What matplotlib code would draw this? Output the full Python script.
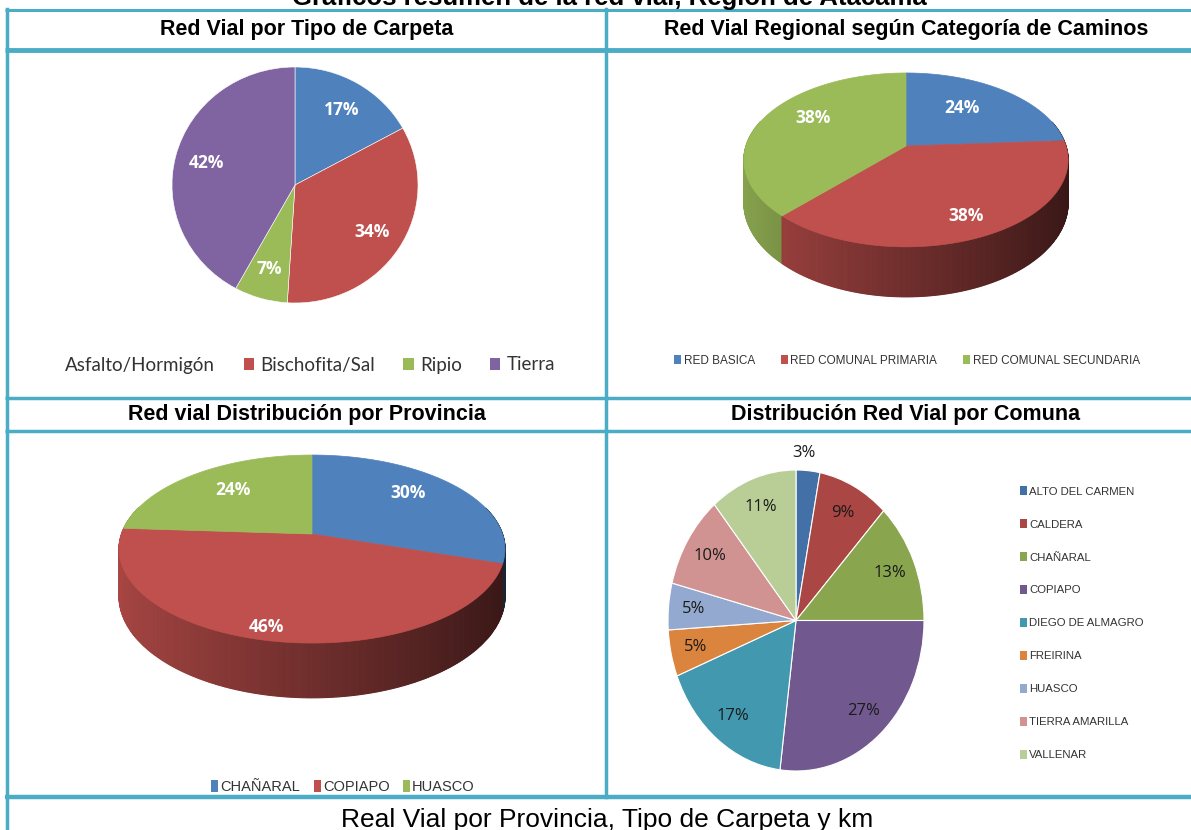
import numpy as np
import matplotlib
matplotlib.use('Agg')
import matplotlib.pyplot as plt
from matplotlib.patches import Polygon, Patch

W, H = 1191, 830

# datos
carpeta_labels = ['Asfalto/Hormigón', 'Bischofita/Sal', 'Ripio', 'Tierra']
carpeta_pct = [17, 34, 7, 42]

categoria_labels = ['RED BASICA', 'RED COMUNAL PRIMARIA', 'RED COMUNAL SECUNDARIA']
categoria_pct = [24, 38, 38]

provincia_labels = ['CHAÑARAL', 'COPIAPO', 'HUASCO']
provincia_pct = [30, 46, 24]

comuna_labels = ['ALTO DEL CARMEN', 'CALDERA', 'CHAÑARAL', 'COPIAPO', 'DIEGO DE ALMAGRO',
                 'FREIRINA', 'HUASCO', 'TIERRA AMARILLA', 'VALLENAR']
comuna_pct = [3, 9, 13, 27, 17, 5, 5, 10, 11]

COL4 = ['#4F81BD', '#C0504D', '#9BBB59', '#8064A2']
COL_COMUNA = ['#4470A8', '#AA4643', '#89A54E', '#71588F', '#4198AF',
              '#DB843D', '#93A9CF', '#D19392', '#B9CD96']
TEAL = '#4BACC6'
SANS = 'Liberation Sans'
PCTFONT = ['Open Sans', 'DejaVu Sans']

fig = plt.figure(figsize=(W / 100, H / 100), dpi=100)
fondo = fig.add_axes([0, 0, 1, 1])
fondo.set_xlim(0, W)
fondo.set_ylim(H, 0)
fondo.axis('off')


def caja(x0, y0, x1, y1):
    # px (origen arriba-izquierda) -> fraccion de figura
    return [x0 / W, 1 - y1 / H, (x1 - x0) / W, (y1 - y0) / H]


# lineas de la tabla
for y, lw in [(10.5, 2.2), (50, 3.5), (397.5, 2.5), (430.5, 2.5), (797, 3.2)]:
    fondo.plot([5, W], [y, y], color=TEAL, lw=lw, solid_capstyle='butt')
fondo.plot([7, 7], [9, H], color=TEAL, lw=2.5)
fondo.plot([606, 606], [9, 797], color=TEAL, lw=2.5)

# textos
fondo.text(609, 5, 'Gráficos resumen de la red vial, Región de Atacama', ha='center',
           va='baseline', fontsize=18.5, fontweight='bold', family=SANS)
for x, y, t in [(307, 29, 'Red Vial por Tipo de Carpeta'),
                (906, 29, 'Red Vial Regional según Categoría de Caminos'),
                (307, 414, 'Red vial Distribución por Provincia'),
                (906, 414, 'Distribución Red Vial por Comuna')]:
    fondo.text(x, y, t, ha='center', va='center', fontsize=15.5, fontweight='bold', family=SANS)
fondo.text(607, 827, 'Real Vial por Provincia, Tipo de Carpeta y km', ha='center',
           va='baseline', fontsize=19, family=SANS)


def proyectar(X, Z, cx, cy, A, B, k):
    # disco con perspectiva: Z>0 es el fondo
    d = 1 + k * Z
    return cx + A * X / d, cy - B * Z / d


def pie3d(ax, vals, colors, cx, cy, A, B, k, depth, label_pos):
    total = float(sum(vals))
    start = 90.0
    tapas, lados = [], []
    for v, c in zip(vals, colors):
        ang = v / total * 360.0
        t = np.radians(np.linspace(start, start - ang, 240))
        ex, ey = proyectar(np.cos(t), np.sin(t), cx, cy, A, B, k)
        rgb = np.array(matplotlib.colors.to_rgb(c))
        for i in range(len(t) - 1):
            z = np.sin(t[i])
            if z > 0.3:
                continue
            s = 0.88 - 0.6 * (np.cos(t[i]) + 1) / 2
            d0 = depth / (1 + k * np.sin(t[i]))
            d1 = depth / (1 + k * np.sin(t[i + 1]))
            poly = [(ex[i], ey[i]), (ex[i + 1], ey[i + 1]),
                    (ex[i + 1], ey[i + 1] + d1), (ex[i], ey[i] + d0)]
            lados.append((z, poly, rgb * s))
        tapas.append(([(cx, cy)] + list(zip(ex, ey)), c))
        start -= ang
    for z, poly, col in sorted(lados, key=lambda e: -e[0]):
        ax.add_patch(Polygon(poly, closed=True, fc=col, ec=col, lw=0.8, zorder=2))
    for poly, c in tapas:
        ax.add_patch(Polygon(poly, closed=True, fc=c, ec=c, lw=0.5, zorder=3))
    for v, (lx, ly) in zip(vals, label_pos):
        ax.text(lx, ly, f'{v}%', ha='center', va='center', color='white', fontsize=12.5,
                fontweight='bold', family=PCTFONT, zorder=5)


# 1) tipo de carpeta
ax1 = fig.add_axes(caja(172, 67, 418, 303))
w1, _, at1 = ax1.pie(carpeta_pct, colors=COL4, startangle=90, counterclock=False,
                     autopct='%1.0f%%', pctdistance=0.74,
                     wedgeprops=dict(edgecolor='white', linewidth=0.4),
                     textprops=dict(color='white', fontsize=12.5, fontweight='bold',
                                    family=PCTFONT))
ax1.set_aspect('auto')
ax1.set_xlim(-1, 1)
ax1.set_ylim(-1, 1)
h1 = [Patch(fc='none', ec='none')] + [Patch(fc=c) for c in COL4[1:]]
fig.legend(h1, carpeta_labels, loc='center', bbox_to_anchor=(302 / W, 1 - 365 / H), ncol=4,
           frameon=False, handlelength=0.55, handleheight=0.55, handletextpad=0.35,
           columnspacing=1.5, prop=dict(family=['Lato', 'DejaVu Sans'], size=13.5),
           labelcolor='#333333')

# 2) categoria de caminos (3D)
pie3d(fondo, categoria_pct, COL4[:3], 906, 146, 160, 84.7, 0.16, 42,
      [(962, 108), (966, 216), (813, 118)])
h2 = [Patch(fc=c) for c in COL4[:3]]
fig.legend(h2, categoria_labels, loc='center', bbox_to_anchor=(907 / W, 1 - 361 / H), ncol=3,
           frameon=False, handlelength=0.6, handleheight=0.8, handletextpad=0.2,
           columnspacing=2.2, prop=dict(family=SANS, size=8.5), labelcolor='#333333')

# 3) provincia (3D)
pie3d(fondo, provincia_pct, COL4[:3], 312, 534, 190.5, 91.6, 0.16, 46,
      [(408, 493), (266, 627), (233, 490)])
fig.legend(h2, provincia_labels, loc='center', bbox_to_anchor=(343 / W, 1 - 787 / H), ncol=3,
           frameon=False, handlelength=0.5, handleheight=0.85, handletextpad=0.15,
           columnspacing=0.9, prop=dict(family=SANS, size=10.5), labelcolor='#333333')

# 4) comuna
ax4 = fig.add_axes(caja(668, 470, 924, 771))
w4, _, at4 = ax4.pie(comuna_pct, colors=COL_COMUNA, startangle=90, counterclock=False,
                     autopct='%1.0f%%', pctdistance=0.8,
                     wedgeprops=dict(edgecolor='white', linewidth=0.8),
                     textprops=dict(color='#1a1a1a', fontsize=12, family=PCTFONT))
at4[0].set_position((0.06, 1.11))
ax4.set_aspect('auto')
ax4.set_xlim(-1, 1)
ax4.set_ylim(-1, 1)
h4 = [Patch(fc=c) for c in COL_COMUNA]
fig.legend(h4, comuna_labels, loc='upper left', bbox_to_anchor=(1010 / W, 1 - 476 / H),
           frameon=False, handlelength=0.6, handleheight=0.85, handletextpad=0.2,
           labelspacing=1.97, prop=dict(family=SANS, size=8.2), labelcolor='#333333')

fig.savefig('out.png', dpi=100)
